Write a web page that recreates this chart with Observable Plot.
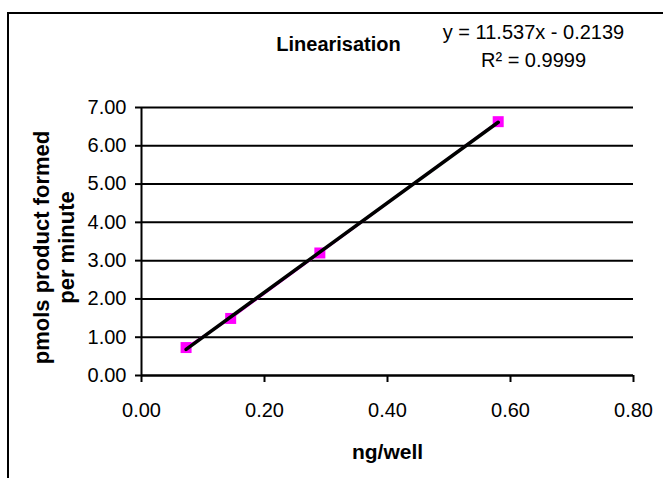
<!DOCTYPE html>
<html>
<head>
<meta charset="utf-8">
<script src="https://cdn.jsdelivr.net/npm/d3@7"></script>
<script src="https://cdn.jsdelivr.net/npm/@observablehq/plot@0.6"></script>
<style>
  html, body { margin: 0; padding: 0; background: #fff; }
  #wrap { position: relative; width: 663px; height: 478px; overflow: hidden; }
  #border { position: absolute; left: 7px; top: 12px; width: 720px; height: 540px; border: 2px solid #000; box-sizing: border-box; pointer-events: none; }
  #wrap svg { display: block; position: absolute; left: 0; top: 0; }
</style>
</head>
<body>
<div id="wrap"><div id="border"></div></div>
<script>
// Data
const ngPerWell = [0.0725, 0.145, 0.29, 0.58];
const pmolsPerMinute = [0.73, 1.49, 3.20, 6.63];
const xTicks = [0, 0.2, 0.4, 0.6, 0.8];
const yTicks = [0, 1, 2, 3, 4, 5, 6, 7];
const titleText = "Linearisation";
const equationText = "y = 11.537x - 0.2139";
const r2Text = "R\u00B2 = 0.9999";
const xLabel = "ng/well";
const yLabel = "pmols product formed\nper minute";

const data = ngPerWell.map((x, i) => ({x, y: pmolsPerMinute[i]}));
const fmt = d3.format(".2f");

const chart = Plot.plot({
  width: 663,
  height: 478,
  marginLeft: 141,
  marginRight: 30,
  marginTop: 107,
  marginBottom: 103,
  style: {fontFamily: "'Liberation Sans', Arial, sans-serif", fontSize: "20px", color: "#000", background: "transparent"},
  x: {domain: [0, 0.8]},
  y: {domain: [0, 7]},
  marks: [
    Plot.gridY(yTicks, {stroke: "#000", strokeOpacity: 1, strokeWidth: 2}),
    Plot.axisY(yTicks, {tickSize: 6, tickPadding: 9, tickFormat: fmt, label: null, strokeWidth: 2}),
    Plot.axisX(xTicks, {tickSize: 7, tickPadding: 20, tickFormat: fmt, label: null, strokeWidth: 2}),
    Plot.ruleX([0], {stroke: "#000", strokeWidth: 2}),
    Plot.ruleY([0], {stroke: "#000", strokeWidth: 2}),
    Plot.line(data, {x: "x", y: "y", stroke: "#ff00ff", strokeWidth: 2}),
    Plot.dot(data, {x: "x", y: "y", symbol: "square", fill: "#ff00ff", r: 6.2}),
    Plot.linearRegressionY(data, {x: "x", y: "y", stroke: "#000", strokeWidth: 3.5, ci: 0}),
    Plot.text([titleText], {frameAnchor: "top", lineAnchor: "middle", dx: -49, dy: -63, fontWeight: "bold", fontSize: 20}),
    Plot.text([equationText], {frameAnchor: "top", lineAnchor: "middle", dx: 146, dy: -75, fontSize: 20}),
    Plot.text([r2Text], {frameAnchor: "top", lineAnchor: "middle", dx: 146, dy: -47, fontSize: 20}),
    Plot.text([xLabel], {frameAnchor: "bottom", lineAnchor: "middle", dy: 77, fontWeight: "bold", fontSize: 21}),
    Plot.text([yLabel], {frameAnchor: "left", textAnchor: "middle", lineAnchor: "middle", dx: -88, dy: 6, rotate: -90, fontWeight: "bold", fontSize: 22, lineHeight: 1.14})
  ]
});
document.getElementById("wrap").appendChild(chart);
</script>
</body>
</html>
